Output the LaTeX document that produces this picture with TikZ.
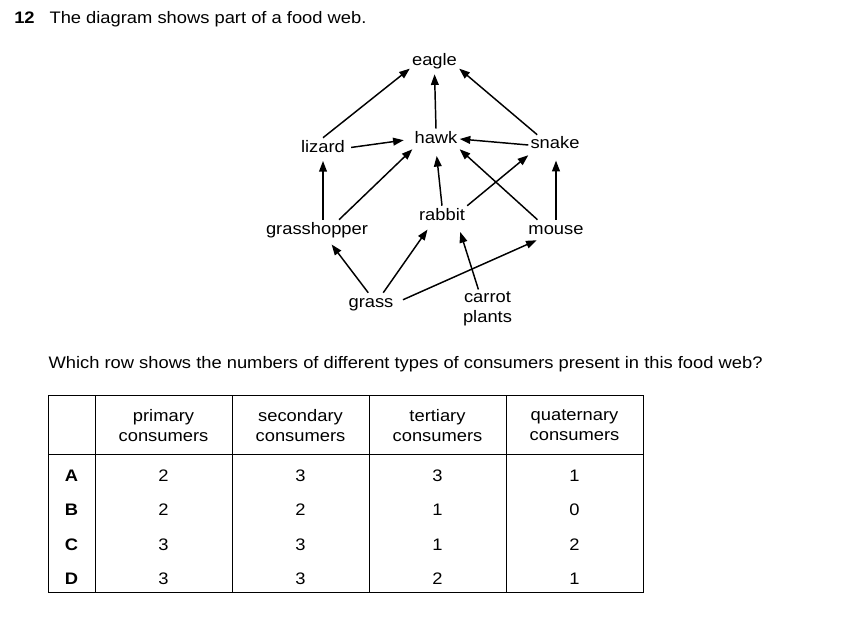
\documentclass[tikz,border=0pt]{standalone}
\usepackage{fontspec}
\setmainfont{Liberation Sans}[FakeStretch=1.1]
\usepackage{xcolor}
\usepackage{tikz}
\usetikzlibrary{arrows.meta}

\begin{document}
\begin{tikzpicture}[x=0.75pt,y=-0.75pt,
    font=\fontsize{12.5}{15.2}\selectfont,
    sp/.style={inner sep=1.5pt,text height=9pt,text depth=3pt,anchor=base},
    feeds/.style={-{Triangle[length=8pt,width=5.8pt]},line width=1.1pt},
    txt/.style={inner sep=0pt,anchor=base west},
    cell/.style={inner sep=0pt,anchor=base},
    head/.style={inner sep=1.5pt,anchor=north,align=center}]
    \useasboundingbox (0,0) rectangle (852,638);
    % Question
    \node[txt] (num) at (14,23.3) {\textbf{12}};
    \node[txt] (intro) at (49.3,23.3) {The diagram shows part of a food web.};
    \node[txt] (ask) at (48.3,368.3) {Which row shows the numbers of different types of consumers present in this food web?};
    % Food web
    \node[sp] (eagle) at (434.5,66) {eagle};
    \node[sp] (hawk) at (436,143) {hawk};
    \node[sp] (lizard) at (323,152) {lizard};
    \node[sp] (snake) at (555,149) {snake};
    \node[sp] (grasshopper) at (317,234) {grasshopper};
    \node[sp] (rabbit) at (442,220) {rabbit};
    \node[sp] (mouse) at (556,234) {mouse};
    \node[sp] (grass) at (371,307) {grass};
    \node[head] (carrot) at (487.5,289.5) {carrot\\plants};
    % Arrows
    \draw[feeds] (lizard.north) -- (eagle.195);
    \draw[feeds,shorten >=1.5pt] (hawk.north) -- (eagle.south);
    \draw[feeds] (snake.150) -- (eagle.-15);
    \draw[feeds,shorten <=3pt,shorten >=6.5pt] (lizard.east) -- (hawk.west);
    \draw[feeds] (snake.west) -- (hawk.east);
    \draw[feeds,shorten >=2pt] (grasshopper.north -| lizard.south) -- (lizard.south);
    \draw[feeds] (grasshopper.25) -- (hawk.south west);
    \draw[feeds,shorten >=5pt] (rabbit.north) -- (hawk.south);
    \draw[feeds] (rabbit.north east) -- (snake.south west);
    \draw[feeds] (mouse.151) -- (hawk.south east);
    \draw[feeds,shorten >=4pt] (mouse.north) -- (mouse.north |- snake.south);
    \draw[feeds,shorten >=4pt] (grass.105) -- (grasshopper.-42);
    \draw[feeds,shorten >=3pt] (grass.40) -- (rabbit.-140);
    \draw[feeds,shorten <=6pt] (grass.east) -- (mouse.-152);
    \draw[feeds,shorten >=4.5pt] (carrot.115) -- (rabbit.-32);
    % Table
    \draw[line width=0.75pt] (48,395) rectangle (643,592);
    \draw[line width=0.75pt] (48,454) -- (643,454);
    \foreach \cx in {95,232,369,506}
      \draw[line width=0.75pt] (\cx,395) -- (\cx,592);
    \node[head] (h1) at (163.5,407) {primary\\consumers};
    \node[head] (h2) at (300.5,407) {secondary\\consumers};
    \node[head] (h3) at (437.5,407) {tertiary\\consumers};
    \node[head] (h4) at (574.5,407) {quaternary\\consumers};
    \foreach \r/\a/\b/\c/\d/\y in {A/2/3/3/1/481,B/2/2/1/0/515.5,C/3/3/1/2/550,D/3/3/2/1/584}{
      \node[cell] (row\r) at (71.5,\y) {\textbf{\r}};
      \node[cell] at (163.5,\y) {\a};
      \node[cell] at (300.5,\y) {\b};
      \node[cell] at (437.5,\y) {\c};
      \node[cell] at (574.5,\y) {\d};
    }
\end{tikzpicture}
\end{document}
